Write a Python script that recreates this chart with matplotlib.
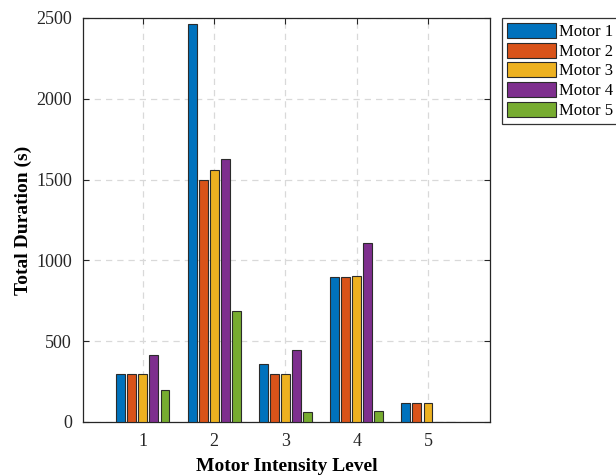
import matplotlib.pyplot as plt
import numpy as np

plt.rcParams['font.family'] = ['Liberation Serif', 'DejaVu Serif']

niveles = [1, 2, 3, 4, 5]
motores = ['Motor 1', 'Motor 2', 'Motor 3', 'Motor 4', 'Motor 5']
duraciones = [
    [300, 2460, 360, 900, 120],   # Motor 1
    [300, 1500, 300, 900, 120],   # Motor 2
    [300, 1560, 300, 905, 120],   # Motor 3
    [415, 1628, 448, 1105, 0],    # Motor 4
    [200, 685, 60, 65, 0],        # Motor 5
]
colores = ['#0072BD', '#D95319', '#EDB120', '#7E2F8E', '#77AC30']

fig = plt.figure(figsize=(6.16, 4.75), dpi=100)
ax = fig.add_axes([83 / 616, 53 / 475, 407 / 616, 404 / 475])

x = np.array(niveles, dtype=float)
paso = 0.155
for i, (nombre, vals) in enumerate(zip(motores, duraciones)):
    ax.bar(x + (i - 2) * paso, vals, width=0.125, color=colores[i],
           edgecolor='#2b2b2b', linewidth=0.8, label=nombre, zorder=3)

ax.set_xlim(0.16, 5.87)
ax.set_ylim(0, 2500)
ax.set_xticks(niveles)
ax.set_yticks([0, 500, 1000, 1500, 2000, 2500])

ax.grid(True, color='#d9d9d9', linestyle=(0, (5, 4)), linewidth=0.9, zorder=0)
ax.tick_params(direction='in', top=True, right=True, length=4, width=0.8,
               labelsize=13, colors='#262626')
ax.tick_params(axis='x', pad=8)
ax.tick_params(axis='y', pad=8)
for s in ax.spines.values():
    s.set_linewidth(0.9)
    s.set_color('#262626')

ax.set_xlabel('Motor Intensity Level', fontsize=14, fontweight='bold', labelpad=6)
ax.set_ylabel('Total Duration (s)', fontsize=14, fontweight='bold', labelpad=3)

leg = ax.legend(loc='upper left', bbox_to_anchor=(1.03, 1.0), fontsize=12,
                frameon=True, fancybox=False, edgecolor='black',
                handlelength=2.9, handleheight=1.0, handletextpad=0.2,
                labelspacing=0.15, borderpad=0.3, borderaxespad=0)
leg.get_frame().set_linewidth(0.9)

fig.savefig('out.png', dpi=100)
